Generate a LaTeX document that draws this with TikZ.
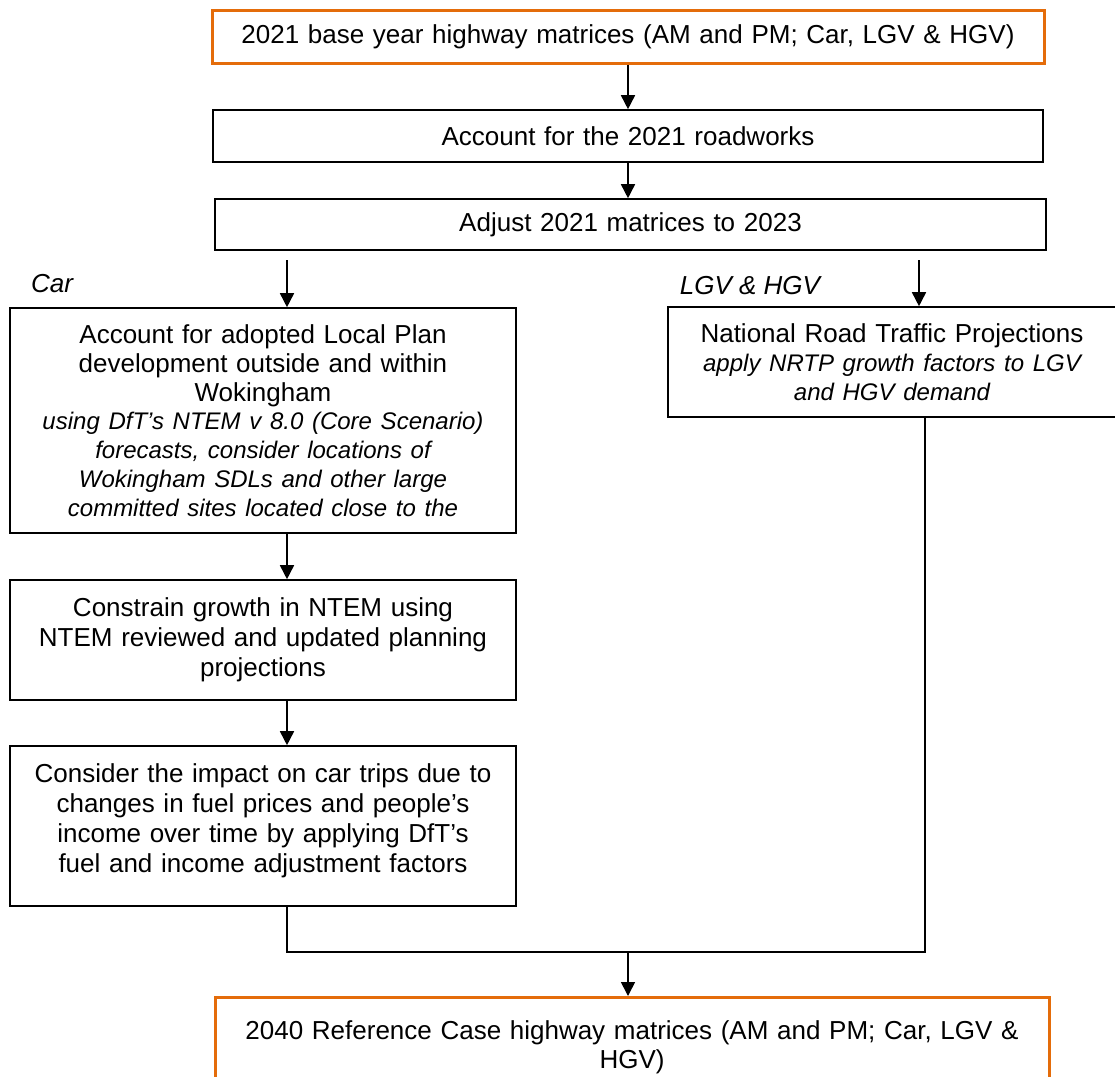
\documentclass[tikz,border=0pt]{standalone}
\usepackage{fontspec}
\setmainfont{Liberation Sans}
\usetikzlibrary{arrows.meta}
\definecolor{boxorange}{HTML}{E46C0A}
\newcommand{\notefont}{\fontsize{12}{14.4}\selectfont\itshape}

\tikzset{
  stepbox/.style={draw=black, line width=0.8pt, fill=white, align=center,
    inner xsep=2pt, inner ysep=3pt, font=\fontsize{13}{14.4}\selectfont},
  widebox/.style={stepbox, font=\fontsize{13}{15}\selectfont},
  endbox/.style={stepbox, draw=boxorange, line width=1.5pt},
  tag/.style={font=\fontsize{13}{14.4}\selectfont\itshape, inner sep=0pt},
  line/.style={draw=black, line width=0.8pt},
  flow/.style={line, -{Triangle[width=7pt,length=7pt]}}
}

\begin{document}
\begin{tikzpicture}[x=0.5pt, y=-0.5pt]
  \useasboundingbox (0,0) rectangle (1115,1077);

  % main chain
  \node[endbox, minimum width=416pt, minimum height=26.5pt, text width=410pt] (base) at (628,36.5)
    {2021 base year highway matrices (AM and PM; Car, LGV \& HGV)};
  \node[stepbox, minimum width=415pt, minimum height=26pt, text width=410pt] (roadworks) at (628,136)
    {Account for the 2021 roadworks};
  \node[stepbox, minimum width=415.5pt, minimum height=25.5pt, text width=410pt] (adjust) at (630.5,224.5)
    {Adjust 2021 matrices to 2023};

  % car branch
  \node[tag] (carlabel) at (52,284) {Car};
  \node[stepbox, minimum width=253pt, minimum height=112.5pt, text width=249pt] (car) at (263,420.5)
    {Account for adopted Local Plan\\ development outside and within\\ Wokingham\\
     \notefont using DfT’s NTEM v 8.0 (Core Scenario)\\ forecasts, consider locations of\\
     Wokingham SDLs and other large\\ committed sites located close to the};
  \node[widebox, minimum width=253pt, minimum height=60pt, text width=249pt] (constrain) at (263,640)
    {Constrain growth in NTEM using\\ NTEM reviewed and updated planning\\ projections};
  \node[widebox, minimum width=253pt, minimum height=80pt, text width=249pt] (consider) at (263,826)
    {Consider the impact on car trips due to\\ changes in fuel prices and people’s\\
     income over time by applying DfT’s\\ fuel and income adjustment factors\\[-7pt]\mbox{}};

  % goods branch
  \node[tag] (hgvlabel) at (750,286) {LGV \& HGV};
  \node[stepbox, minimum width=224pt, minimum height=55pt, text width=220pt] (nrtp) at (892,362)
    {National Road Traffic Projections\\
     \notefont apply NRTP growth factors to LGV\\ and HGV demand};

  % result
  \node[endbox, anchor=north, minimum width=417pt, minimum height=50pt, text width=411pt] (final) at (632,996)
    {2040 Reference Case highway matrices (AM and PM; Car, LGV \&\\ HGV)};

  \coordinate (carin) at (287,260);
  \coordinate (hgvin) at (919,260);
  \coordinate (hgvout) at (925,0);
  \coordinate (join) at (628,952);

  \draw[flow] (base.south) -- (roadworks.north);
  \draw[flow] (roadworks.south) -- (adjust.north -| roadworks.south);
  \draw[flow] (carin) -- (carin |- car.north);
  \draw[flow] (hgvin) -- (hgvin |- nrtp.north);
  \draw[flow] (car.south -| carin) -- (constrain.north -| carin);
  \draw[flow] (constrain.south -| carin) -- (consider.north -| carin);
  \draw[line] (consider.south -| carin) |- (join);
  \draw[line] (nrtp.south -| hgvout) |- (join);
  \draw[flow] (join) -- (final.north -| join);
\end{tikzpicture}
\end{document}
